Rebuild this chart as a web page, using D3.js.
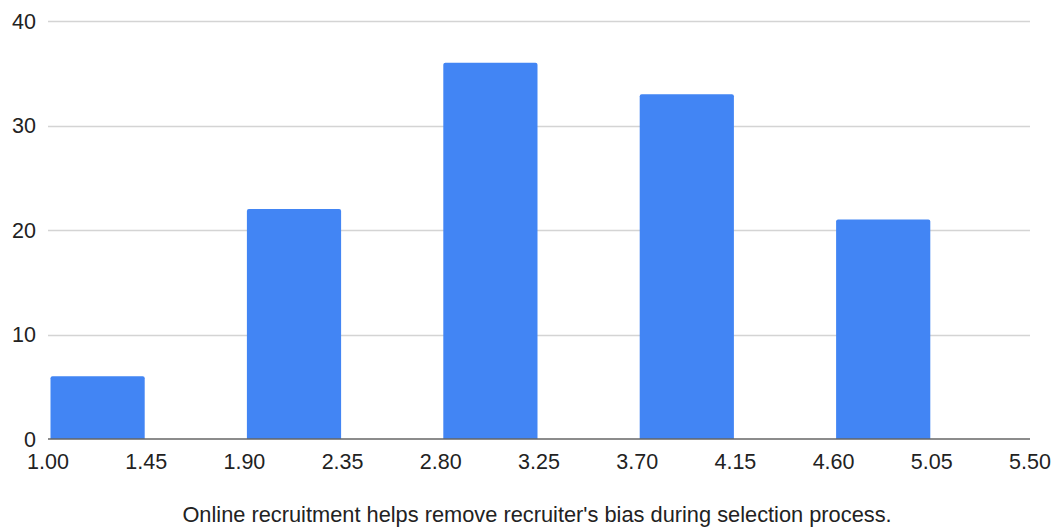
<!DOCTYPE html>
<html>
<head>
<meta charset="utf-8">
<script src="https://cdn.jsdelivr.net/npm/d3@7"></script>
<style>
  html, body { margin: 0; padding: 0; background: #fff; }
  svg { display: block; font-family: "Liberation Sans", Arial, sans-serif; }
</style>
</head>
<body>
<svg id="chart" width="1057" height="529"></svg>
<script>
// Data
const binStarts = [1.00, 1.90, 2.80, 3.70, 4.60];
const binEnds   = [1.45, 2.35, 3.25, 4.15, 5.05];
const counts    = [6, 22, 36, 33, 21];
const xTicks    = [1.00, 1.45, 1.90, 2.35, 2.80, 3.25, 3.70, 4.15, 4.60, 5.05, 5.50];
const yTicks    = [0, 10, 20, 30, 40];
const xTitle    = "Online recruitment helps remove recruiter's bias during selection process.";

(function () {
const svg = d3.select("#chart");
const mLeft = 48, mRight = 1030, mTop = 21, mBottom = 439;

const x = d3.scaleLinear().domain([1.00, 5.50]).range([mLeft, mRight]);
const y = d3.scaleLinear().domain([0, 40]).range([mBottom, mTop]);

// Gridlines
svg.append("g")
  .selectAll("line")
  .data(yTicks.filter(d => d > 0))
  .join("line")
  .attr("x1", mLeft).attr("x2", mRight)
  .attr("y1", d => Math.round(y(d)) + 0.5).attr("y2", d => Math.round(y(d)) + 0.5)
  .attr("stroke", "#d4d4d4").attr("stroke-width", 1.3);

// Y labels
svg.append("g")
  .selectAll("text")
  .data(yTicks)
  .join("text")
  .attr("x", 36)
  .attr("y", d => y(d))
  .attr("dy", "0.35em")
  .attr("text-anchor", "end")
  .attr("font-size", 21.5)
  .attr("fill", "#222")
  .text(d => d);

// Bars with slightly rounded top corners
const bars = binStarts.map((s, i) => ({ x0: s, x1: binEnds[i], v: counts[i] }));
const r = 2;
svg.append("g")
  .selectAll("path")
  .data(bars)
  .join("path")
  .attr("fill", "#4285f4")
  .attr("d", d => {
    const xa = x(d.x0) + 2.5, xb = x(d.x1) - 1.5;
    const yt = y(d.v), yb = y(0);
    return `M${xa},${yb} V${yt + r} Q${xa},${yt} ${xa + r},${yt} H${xb - r} Q${xb},${yt} ${xb},${yt + r} V${yb} Z`;
  });

// Baseline
svg.append("line")
  .attr("x1", mLeft).attr("x2", mRight)
  .attr("y1", y(0)).attr("y2", y(0))
  .attr("stroke", "#666").attr("stroke-width", 1.5);

// X axis labels
svg.append("g")
  .selectAll("text")
  .data(xTicks)
  .join("text")
  .attr("x", d => x(d))
  .attr("y", 469)
  .attr("text-anchor", "middle")
  .attr("font-size", 21.5)
  .attr("fill", "#222")
  .text(d => d.toFixed(2));

// X title
svg.append("text")
  .attr("x", 537)
  .attr("y", 522)
  .attr("text-anchor", "middle")
  .attr("font-size", 21.8)
  .attr("fill", "#222")
  .text(xTitle);
})();
</script>
</body>
</html>
